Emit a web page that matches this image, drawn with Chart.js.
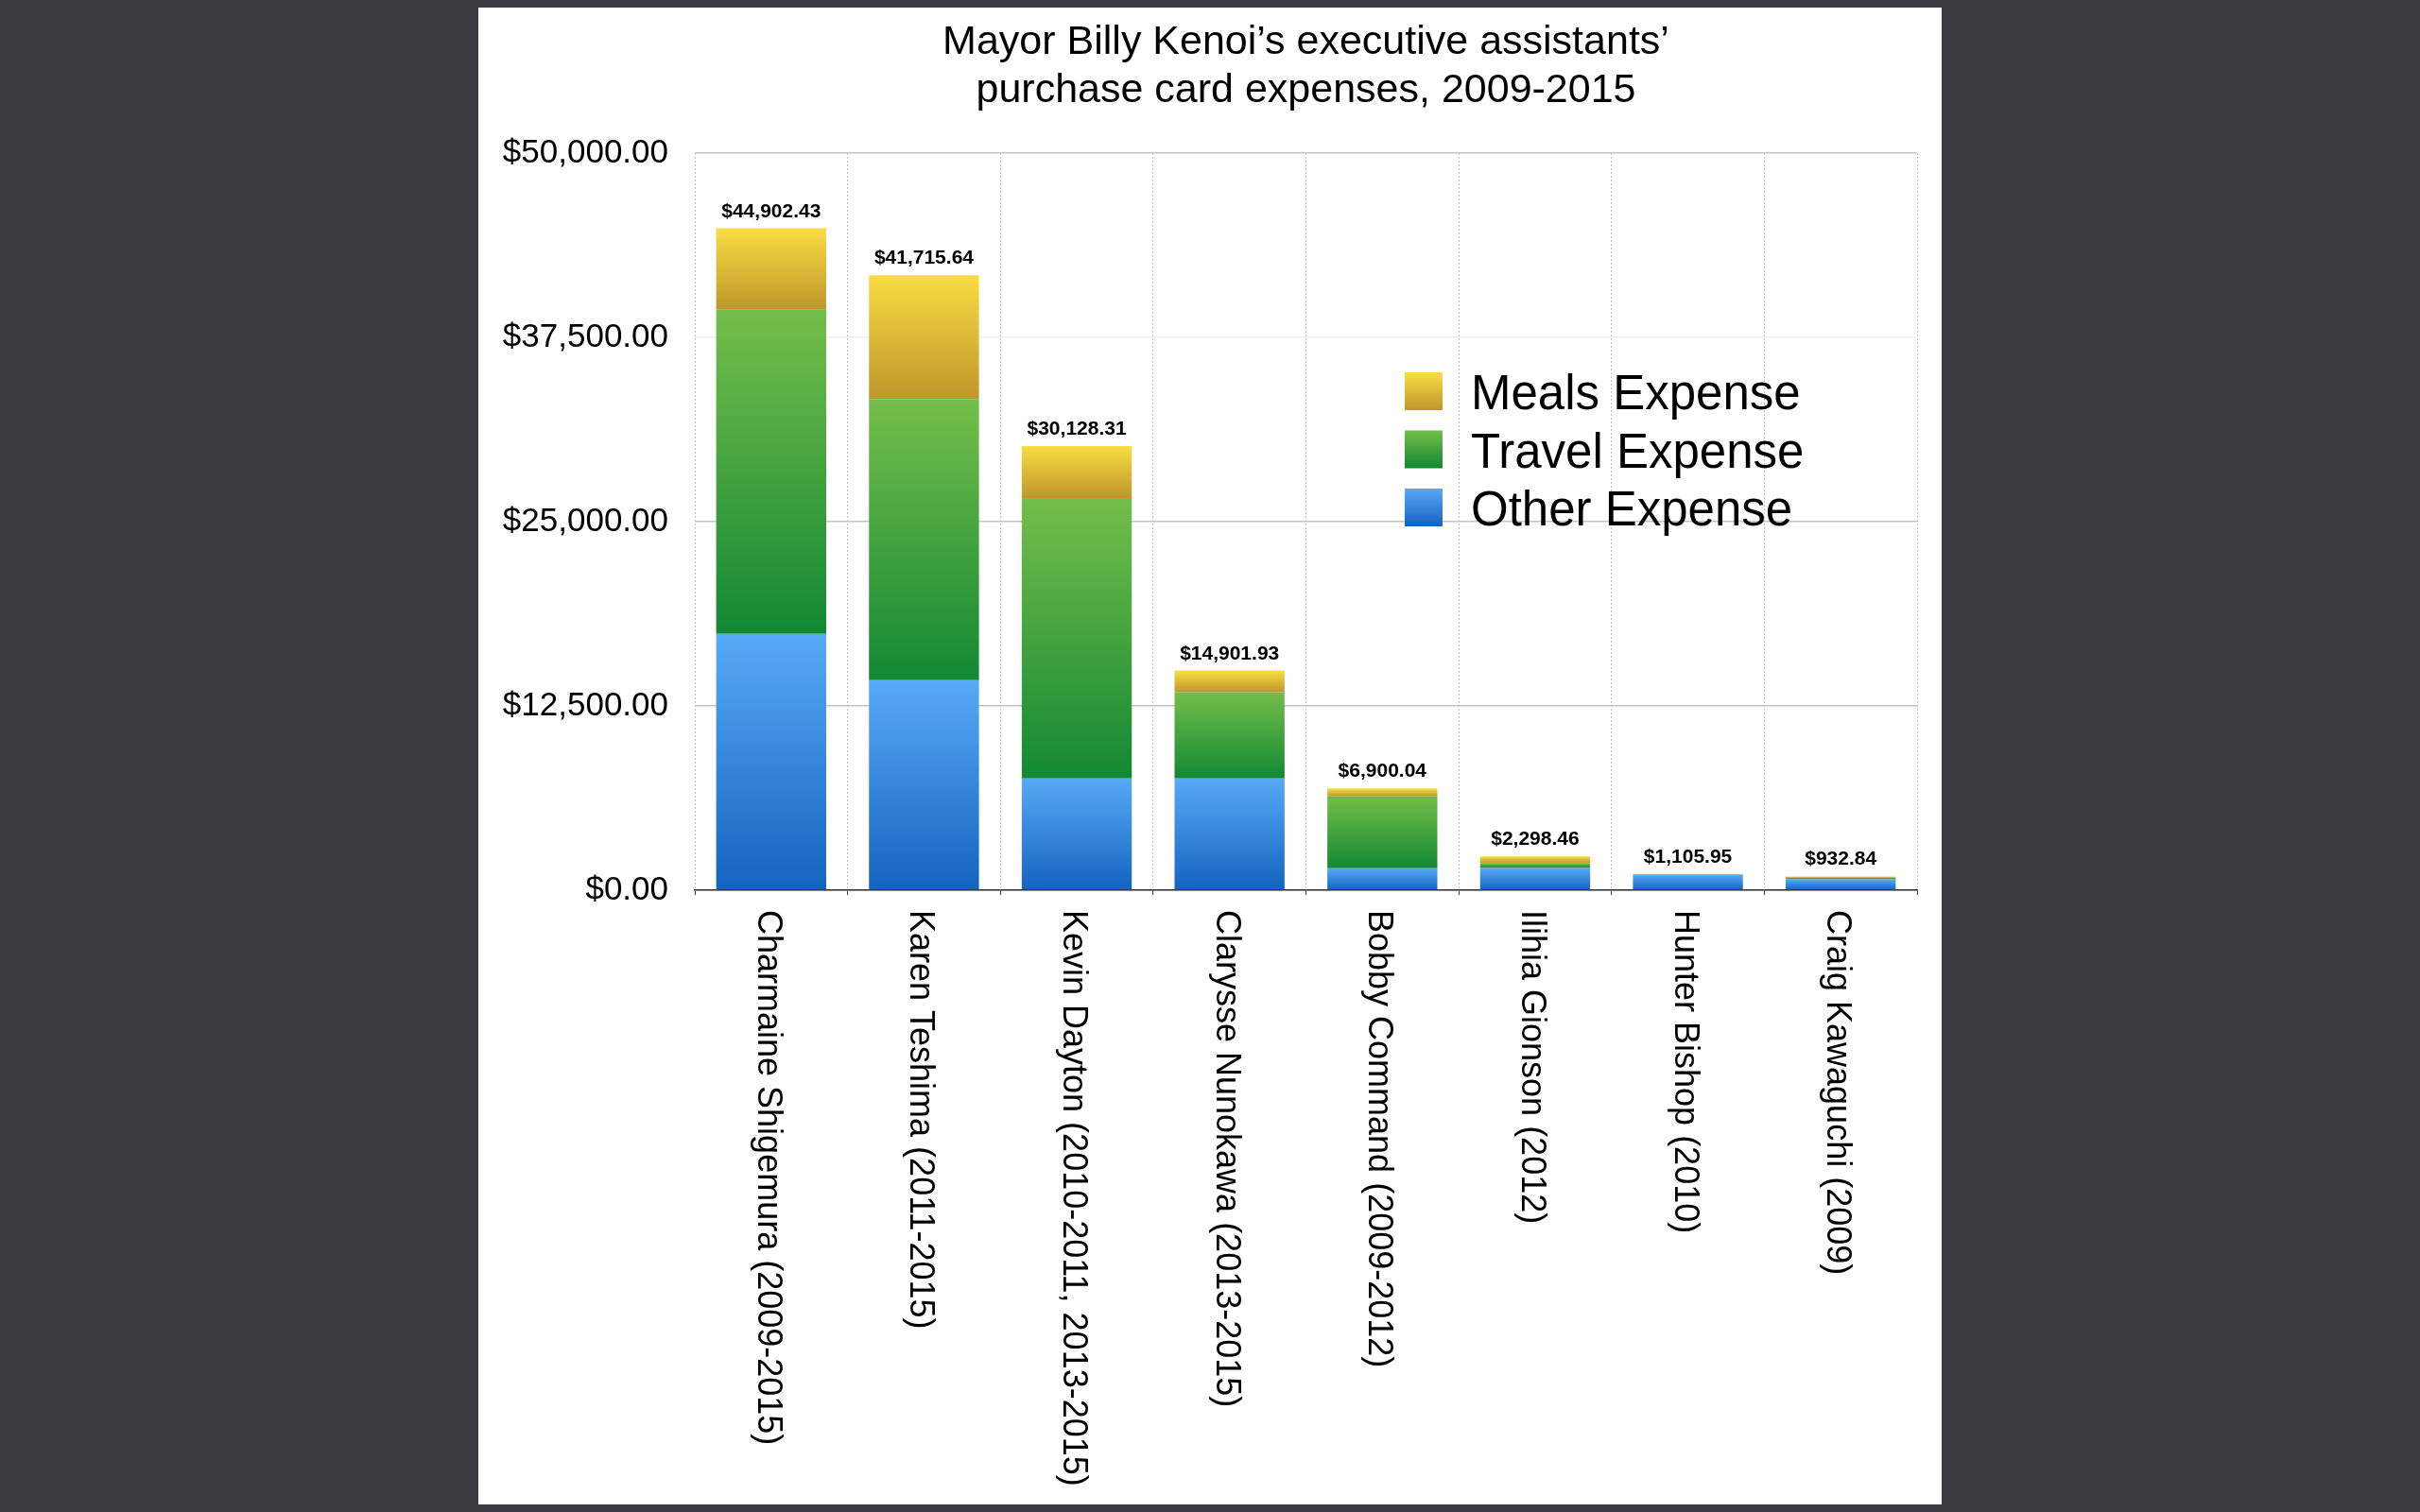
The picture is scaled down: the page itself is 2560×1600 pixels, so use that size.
<!DOCTYPE html>
<html>
<head>
<meta charset="utf-8">
<script src="https://cdn.jsdelivr.net/npm/chart.js@4.4.1/dist/chart.umd.min.js"></script>
<style>
html,body{margin:0;padding:0;background:#3a3b40;overflow:hidden}
canvas{display:block}
</style>
</head>
<body>
<canvas id="c" width="2560" height="1600"></canvas>
<script>
// ---------- data ----------
const categories = [
  'Charmaine Shigemura (2009-2015)',
  'Karen Teshima (2011-2015)',
  'Kevin Dayton (2010-2011, 2013-2015)',
  'Clarysse Nunokawa (2013-2015)',
  'Bobby Command (2009-2012)',
  'Ilihia Gionson (2012)',
  'Hunter Bishop (2010)',
  'Craig Kawaguchi (2009)'
];
const otherExpense  = [17380, 14245, 7575, 7575, 1490, 1510, 1050, 740];
const travelExpense = [22025, 19080, 19020, 5850, 4870, 300, 0, 110];
const mealsExpense  = [5497.43, 8390.64, 3533.31, 1476.93, 540.04, 488.46, 55.95, 82.84];
const totals = [44902.43, 41715.64, 30128.31, 14901.93, 6900.04, 2298.46, 1105.95, 932.84];
const yTickValues = [0, 12500, 25000, 37500, 50000];
const yTickLabels = ['$0.00', '$12,500.00', '$25,000.00', '$37,500.00', '$50,000.00'];
const titleLines = ['Mayor Billy Kenoi\u2019s executive assistants\u2019', 'purchase card expenses, 2009-2015'];
const seriesNames = ['Other Expense', 'Travel Expense', 'Meals Expense'];

// ---------- styling ----------
const FONT = "'Liberation Sans', Arial, Helvetica, sans-serif";
const palette = {
  other:  ['#57aaf6', '#1463bf'],
  travel: ['#74be4a', '#128833'],
  meals:  ['#f9dd43', '#bf962b']
};

function segmentFill(colors) {
  return (c) => {
    const chart = c.chart;
    const y = chart.scales && chart.scales.y;
    if (c.type !== 'data' || !chart.chartArea || !y) return colors[0];
    const i = c.dataIndex;
    let start = 0;
    for (let d = 0; d < c.datasetIndex; d++) start += chart.data.datasets[d].data[i];
    const end = start + c.raw;
    const y0 = y.getPixelForValue(start), y1 = y.getPixelForValue(end);
    if (!(y0 - y1 > 0.5)) return colors[0];
    const g = chart.ctx.createLinearGradient(0, y1, 0, y0);
    g.addColorStop(0, colors[0]);
    g.addColorStop(1, colors[1]);
    return g;
  };
}

const decor = {
  id: 'decor',
  beforeDraw(chart) {
    const ctx = chart.ctx;
    ctx.save();
    ctx.fillStyle = '#3a3b40';
    ctx.fillRect(0, 0, chart.width, chart.height);
    ctx.fillStyle = '#ffffff';
    ctx.fillRect(506, 8, 1548, 1584);
    ctx.restore();
  },
  afterDatasetsDraw(chart) {
    const ctx = chart.ctx;
    const xs = chart.scales.x, ys = chart.scales.y;
    ctx.save();
    // total labels above bars
    ctx.fillStyle = '#000';
    ctx.font = 'bold 21px ' + FONT;
    ctx.textAlign = 'center';
    ctx.textBaseline = 'alphabetic';
    const fmt = new Intl.NumberFormat('en-US', {style: 'currency', currency: 'USD'});
    totals.forEach((t, i) => {
      const top = ys.getPixelForValue(otherExpense[i] + travelExpense[i] + mealsExpense[i]);
      ctx.fillText(fmt.format(t), xs.getPixelForValue(i), top - 12);
    });
    // rotated category labels
    ctx.font = '36px ' + FONT;
    ctx.textAlign = 'left';
    ctx.textBaseline = 'alphabetic';
    categories.forEach((lab, i) => {
      ctx.save();
      ctx.translate(xs.getPixelForValue(i), chart.chartArea.bottom + 21);
      ctx.rotate(Math.PI / 2);
      ctx.fillText(lab, 0, 14);
      ctx.restore();
    });
    // legend
    const items = [
      [seriesNames[2], palette.meals],
      [seriesNames[1], palette.travel],
      [seriesNames[0], palette.other]
    ];
    ctx.font = '51px ' + FONT;
    items.forEach(([name, col], k) => {
      const top = 394 + k * 61.5;
      const g = ctx.createLinearGradient(0, top, 0, top + 40);
      g.addColorStop(0, col[0]);
      g.addColorStop(1, col[1]);
      ctx.fillStyle = g;
      ctx.fillRect(1486, top, 40, 40);
      ctx.fillStyle = '#000';
      ctx.fillText(name, 1556, top + 39);
    });
    ctx.restore();
  }
};

new Chart(document.getElementById('c'), {
  type: 'bar',
  data: {
    labels: categories,
    datasets: [
      {label: seriesNames[0], data: otherExpense,  backgroundColor: segmentFill(palette.other)},
      {label: seriesNames[1], data: travelExpense, backgroundColor: segmentFill(palette.travel)},
      {label: seriesNames[2], data: mealsExpense,  backgroundColor: segmentFill(palette.meals)}
    ]
  },
  options: {
    responsive: false,
    animation: false,
    devicePixelRatio: 1,
    events: [],
    datasets: {bar: {categoryPercentage: 1, barPercentage: 0.72, borderWidth: 0}},
    layout: {padding: {top: 7.5, left: 506, right: 532, bottom: 0}},
    plugins: {
      legend: {display: false},
      tooltip: {enabled: false},
      title: {
        display: true,
        fullSize: false,
        text: titleLines,
        color: '#000',
        font: {family: FONT, size: 43, weight: 'normal', lineHeight: 51 / 43},
        padding: {top: 12, bottom: 40.5}
      }
    },
    scales: {
      x: {
        stacked: true,
        offset: true,
        ticks: {display: false},
        grid: {
          offset: true,
          color: '#c2c2c2',
          lineWidth: 1,
          drawTicks: true,
          tickLength: 5,
          tickColor: '#444',
          tickBorderDash: []
        },
        border: {display: true, color: '#333', width: 1.5, dash: [2, 2]},
        afterFit: (s) => { s.height = 658; }
      },
      y: {
        stacked: true,
        min: 0,
        max: 50000,
        afterBuildTicks: (s) => { s.ticks = yTickValues.map(v => ({value: v})); },
        ticks: {
          color: '#000',
          padding: 28,
          font: {family: FONT, size: 35},
          callback: (v) => yTickLabels[yTickValues.indexOf(v)]
        },
        grid: {
          drawTicks: false,
          color: (c) => (c.tick && c.tick.value === 37500) ? '#eeeeee' : '#c4c4c4',
          lineWidth: 1.5
        },
        border: {display: false},
        afterFit: (s) => { s.width = 229; }
      }
    }
  },
  plugins: [decor]
});
</script>
</body>
</html>
